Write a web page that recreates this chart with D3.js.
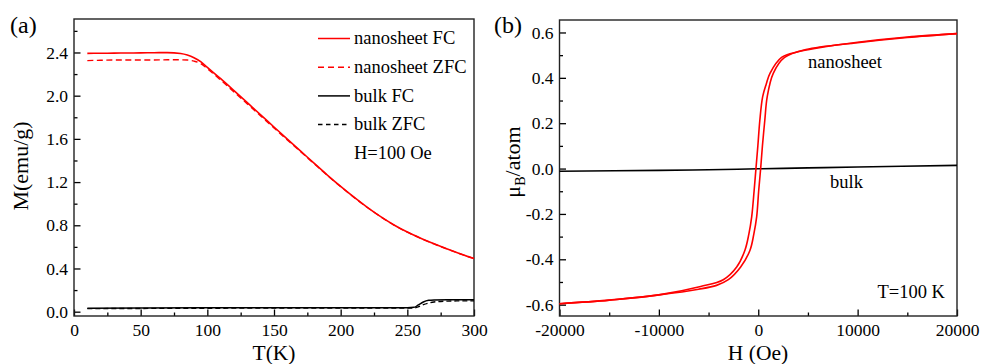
<!DOCTYPE html>
<html>
<head>
<meta charset="utf-8">
<script src="https://cdn.jsdelivr.net/npm/d3@7"></script>
<style>
  html, body { margin: 0; padding: 0; background: #fff; }
  svg { display: block; }
  svg text { font-family: "Liberation Serif", "Times New Roman", serif; fill: #000; }
  .tick text { font-size: 17.5px; }
</style>
</head>
<body>
<div id="chart"></div>
<script>
/* M(T) and M(H) curves, nanosheet vs bulk */

// ---- panel (a): M vs T, H=100 Oe
var tempsNano = [10, 20, 30, 40, 50, 60, 70, 80, 85, 90, 95, 100, 110, 120, 130, 140, 150,
  160, 170, 180, 190, 200, 210, 220, 230, 240, 250, 260, 270, 280, 290, 300];
var nanoFC = [2.392, 2.393, 2.394, 2.395, 2.396, 2.398, 2.399, 2.39, 2.376, 2.352, 2.316, 2.262,
  2.157, 2.047, 1.935, 1.823, 1.71, 1.598, 1.487, 1.375, 1.265, 1.16, 1.06, 0.966, 0.88,
  0.803, 0.737, 0.68, 0.628, 0.58, 0.535, 0.493];
var nanoZFC = [2.325, 2.328, 2.33, 2.33, 2.33, 2.331, 2.332, 2.332, 2.33, 2.32, 2.298, 2.25,
  2.145, 2.035, 1.924, 1.813, 1.701, 1.59, 1.481, 1.371, 1.262, 1.158, 1.058, 0.965, 0.879,
  0.802, 0.736, 0.679, 0.627, 0.579, 0.534, 0.492];
var tempsBulk = [10, 50, 100, 150, 200, 250, 255, 258, 262, 266, 270, 280, 290, 300];
var bulkFC = [0.031, 0.034, 0.036, 0.037, 0.037, 0.037, 0.04, 0.06, 0.09, 0.105, 0.109, 0.111, 0.111, 0.111];
var bulkZFC = [0.028, 0.03, 0.032, 0.033, 0.033, 0.033, 0.034, 0.045, 0.065, 0.08, 0.09, 0.098, 0.1, 0.1];

var legendNames = ["nanosheet FC", "nanosheet ZFC", "bulk FC", "bulk ZFC"];
var xTicksA = [0, 50, 100, 150, 200, 250, 300];
var yTicksA = [0.0, 0.4, 0.8, 1.2, 1.6, 2.0, 2.4];

// ---- panel (b): moment vs field, T=100 K
var fieldDown = [20000, 15000, 10000, 6000, 4000, 2350, 1180, 800, 440, 160, -40, -231, -420,
  -660, -950, -1340, -2170, -3520, -5800, -10000, -15000, -20000];
var momentDown = [0.595, 0.58, 0.557, 0.532, 0.515, 0.49, 0.42, 0.372, 0.316, 0.213, 0.1, 0.0, -0.1,
  -0.213, -0.29, -0.36, -0.434, -0.49, -0.52, -0.557, -0.58, -0.596];
var fieldUp = [-20000, -15000, -10000, -6000, -4200, -3010, -1770, -830, -450, -160, 40, 241,
  420, 660, 900, 1510, 2650, 4800, 10000, 15000, 20000];
var momentUp = [-0.596, -0.58, -0.557, -0.532, -0.515, -0.49, -0.434, -0.36, -0.29, -0.213, -0.1, 0.0,
  0.1, 0.213, 0.316, 0.42, 0.49, 0.525, 0.555, 0.578, 0.595];
var fieldBulk = [-20000, -10000, -5000, 0, 5000, 10000, 20000];
var momentBulk = [-0.012, -0.008, -0.005, -0.001, 0.003, 0.007, 0.014];

var xTicksB = [-20000, -10000, 0, 10000, 20000];
var yTicksB = [-0.6, -0.4, -0.2, 0.0, 0.2, 0.4, 0.6];

(function () {
  "use strict";

  var RED = "#ff0000";
  var svg = d3.select("#chart").append("svg").attr("width", 981).attr("height", 364);

  function zip(xs, ys) {
    return xs.map(function (v, i) { return [v, ys[i]]; });
  }

  function range(a, b, step) {
    var out = [];
    for (var v = a; v <= b + step / 1e6; v += step) out.push(+v.toFixed(6));
    return out;
  }

  function plain(g) {
    g.attr("font-family", null).attr("font-size", null);
    g.select(".domain").remove();
  }

  // frame + inward ticks (bottom and left only, like the original)
  function drawAxes(x, y, opt) {
    var x0 = x.range()[0], x1 = x.range()[1], y0 = y.range()[0], y1 = y.range()[1];

    svg.append("g").attr("transform", "translate(0," + y0 + ")")
      .call(d3.axisBottom(x).tickValues(opt.xMinor).tickSize(-3.5).tickFormat(""))
      .call(plain);
    svg.append("g").attr("transform", "translate(" + x0 + ",0)")
      .call(d3.axisLeft(y).tickValues(opt.yMinor).tickSize(-3.5).tickFormat(""))
      .call(plain);

    svg.append("g").attr("transform", "translate(0," + y0 + ")")
      .call(d3.axisBottom(x).tickValues(opt.xTicks).tickSize(-6.5).tickPadding(8).tickFormat(opt.xFmt))
      .call(plain);
    svg.append("g").attr("transform", "translate(" + x0 + ",0)")
      .call(d3.axisLeft(y).tickValues(opt.yTicks).tickSize(-6.5).tickPadding(6).tickFormat(opt.yFmt))
      .call(plain);

    svg.selectAll(".tick line").attr("stroke", "#000").attr("stroke-width", 1.3);

    svg.append("rect")
      .attr("x", x0).attr("y", y1).attr("width", x1 - x0).attr("height", y0 - y1)
      .attr("fill", "none").attr("stroke", "#222").attr("stroke-width", 1.4);
  }

  /* Panel (a) */
  var xa = d3.scaleLinear().domain([0, 300]).range([74, 474]);
  var ya = d3.scaleLinear().domain([-0.04, 2.71]).range([316, 19]);

  drawAxes(xa, ya, {
    xTicks: xTicksA, yTicks: yTicksA,
    xMinor: range(25, 275, 50), yMinor: range(0.2, 2.6, 0.4),
    xFmt: function (d) { return String(d); },
    yFmt: function (d) { return d.toFixed(1); }
  });

  var lineA = d3.line().x(function (d) { return xa(d[0]); }).y(function (d) { return ya(d[1]); })
    .curve(d3.curveMonotoneX);

  var seriesA = [
    { data: zip(tempsNano, nanoZFC), color: RED, dash: "6,3.5", w: 1.4 },
    { data: zip(tempsNano, nanoFC), color: RED, dash: null, w: 1.6 },
    { data: zip(tempsBulk, bulkZFC), color: "#000", dash: "5,3", w: 1.4 },
    { data: zip(tempsBulk, bulkFC), color: "#000", dash: null, w: 1.5 }
  ];
  seriesA.forEach(function (s) {
    svg.append("path").datum(s.data)
      .attr("fill", "none").attr("stroke", s.color).attr("stroke-width", s.w)
      .attr("stroke-dasharray", s.dash).attr("d", lineA);
  });

  // Legend
  var legStyle = [
    { color: RED, dash: null }, { color: RED, dash: "6,4" },
    { color: "#000", dash: null }, { color: "#000", dash: "4.5,3.5" }
  ];
  var leg = svg.append("g").attr("transform", "translate(318,38.5)");
  legendNames.forEach(function (name, i) {
    var yy = i * 28.7;
    leg.append("line").attr("x1", 0).attr("x2", 32).attr("y1", yy).attr("y2", yy)
      .attr("stroke", legStyle[i].color).attr("stroke-width", 1.5)
      .attr("stroke-dasharray", legStyle[i].dash);
    leg.append("text").attr("x", 36).attr("y", yy + 5.8)
      .attr("font-size", 18.5).text(name);
  });
  leg.append("text").attr("x", 36).attr("y", 4 * 28.7 + 5.8).attr("font-size", 18.5).text("H=100 Oe");

  svg.append("text").attr("x", 10).attr("y", 33).attr("font-size", 24).text("(a)");
  svg.append("text").attr("x", 274).attr("y", 360).attr("text-anchor", "middle")
    .attr("font-size", 21.5).text("T(K)");
  svg.append("text").attr("transform", "translate(28,166) rotate(-90)").attr("text-anchor", "middle")
    .attr("font-size", 22).text("M(emu/g)");

  /* Panel (b) */
  var xb = d3.scaleLinear().domain([-20000, 20000]).range([559.5, 957]);
  var yb = d3.scaleLinear().domain([-0.65, 0.655]).range([316, 20]);

  drawAxes(xb, yb, {
    xTicks: xTicksB, yTicks: yTicksB,
    xMinor: range(-15000, 15000, 10000), yMinor: range(-0.5, 0.5, 0.2),
    xFmt: function (d) { return String(d); },
    yFmt: function (d) { return d.toFixed(1); }
  });

  var lineB = d3.line().x(function (d) { return xb(d[0]); }).y(function (d) { return yb(d[1]); })
    .curve(d3.curveCatmullRom.alpha(0.5));

  svg.append("path").datum(zip(fieldBulk, momentBulk))
    .attr("fill", "none").attr("stroke", "#000").attr("stroke-width", 1.6).attr("d", lineB);
  [zip(fieldDown, momentDown), zip(fieldUp, momentUp)].forEach(function (branch) {
    svg.append("path").datum(branch)
      .attr("fill", "none").attr("stroke", RED).attr("stroke-width", 1.6).attr("d", lineB);
  });

  svg.append("text").attr("x", 808).attr("y", 68).attr("font-size", 18.5).text("nanosheet");
  svg.append("text").attr("x", 830).attr("y", 188).attr("font-size", 18.5).text("bulk");
  svg.append("text").attr("x", 945).attr("y", 298).attr("text-anchor", "end")
    .attr("font-size", 18.5).text("T=100 K");

  svg.append("text").attr("x", 494).attr("y", 33).attr("font-size", 24).text("(b)");
  svg.append("text").attr("x", 758).attr("y", 360).attr("text-anchor", "middle")
    .attr("font-size", 21.5).text("H (Oe)");

  var yl = svg.append("text").attr("transform", "translate(520,162) rotate(-90)")
    .attr("text-anchor", "middle").attr("font-size", 22);
  yl.append("tspan").text("\u03bc");
  yl.append("tspan").attr("font-size", 14).attr("dy", 5).text("B");
  yl.append("tspan").attr("dy", -5).text("/atom");
})();
</script>
</body>
</html>
